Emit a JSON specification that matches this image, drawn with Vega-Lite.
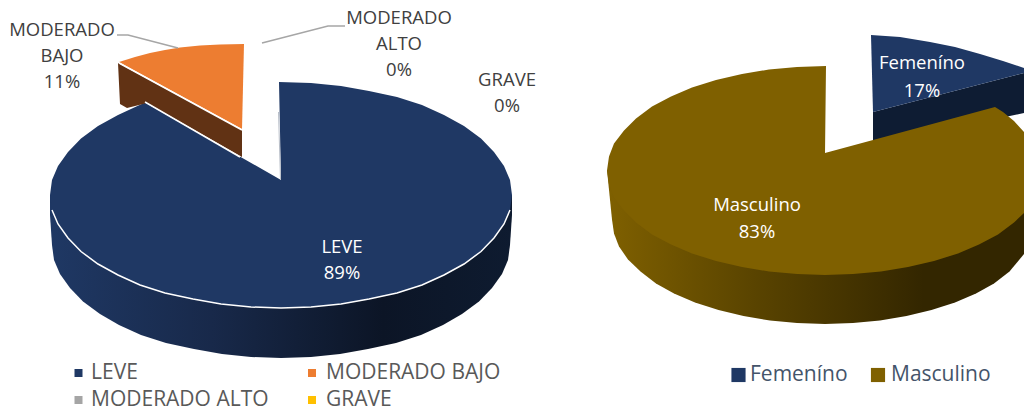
{"$schema":"https://vega.github.io/schema/vega-lite/v6.json","width":1024,"height":408,"autosize":{"type":"none"},"padding":0,"background":"white","config":{"view":{"stroke":null},"axis":{"disable":true}},
"encoding":{"x":{"field":"x","type":"quantitative","scale":{"domain":[0,1024],"nice":false,"zero":false},"axis":null},"y":{"field":"y","type":"quantitative","scale":{"domain":[408,0],"nice":false,"zero":false},"axis":null}},
"datasets":{
"leveSide":[{"i":1,"x":50,"y":195},{"i":2,"x":50,"y":215},{"i":3,"x":52,"y":245},{"i":4,"x":54,"y":260},{"i":5,"x":60,"y":274},{"i":6,"x":70,"y":288},{"i":7,"x":83,"y":301.5},{"i":8,"x":100,"y":314},{"i":9,"x":119,"y":325},{"i":10,"x":141,"y":335},{"i":11,"x":166,"y":343},{"i":12,"x":194,"y":349},{"i":13,"x":222,"y":354},{"i":14,"x":251,"y":357},{"i":15,"x":281,"y":358},{"i":16,"x":311,"y":357},{"i":17,"x":340,"y":354},{"i":18,"x":368,"y":349},{"i":19,"x":396,"y":343},{"i":20,"x":421,"y":335},{"i":21,"x":443,"y":325},{"i":22,"x":462,"y":314},{"i":23,"x":479,"y":301.5},{"i":24,"x":492,"y":288},{"i":25,"x":502,"y":274},{"i":26,"x":508,"y":260},{"i":27,"x":510,"y":245},{"i":28,"x":512,"y":215},{"i":29,"x":512,"y":195}],
"leveTop":[{"i":1,"x":281,"y":180},{"i":2,"x":279,"y":82},{"i":3,"x":311,"y":83},{"i":4,"x":341,"y":86},{"i":5,"x":369,"y":91},{"i":6,"x":397,"y":97},{"i":7,"x":422,"y":105},{"i":8,"x":444,"y":115},{"i":9,"x":464,"y":126},{"i":10,"x":481,"y":138.5},{"i":11,"x":494,"y":152},{"i":12,"x":504,"y":166},{"i":13,"x":510,"y":180},{"i":14,"x":512,"y":195},{"i":15,"x":510,"y":210},{"i":16,"x":504,"y":224},{"i":17,"x":494,"y":238},{"i":18,"x":481,"y":251.5},{"i":19,"x":464,"y":264},{"i":20,"x":444,"y":275},{"i":21,"x":422,"y":285},{"i":22,"x":397,"y":293},{"i":23,"x":369,"y":299},{"i":24,"x":341,"y":304},{"i":25,"x":311,"y":307},{"i":26,"x":281,"y":308},{"i":27,"x":251,"y":307},{"i":28,"x":221,"y":304},{"i":29,"x":193,"y":299},{"i":30,"x":165,"y":293},{"i":31,"x":140,"y":285},{"i":32,"x":118,"y":275},{"i":33,"x":98,"y":264},{"i":34,"x":81,"y":251.5},{"i":35,"x":68,"y":238},{"i":36,"x":58,"y":224},{"i":37,"x":52,"y":210},{"i":38,"x":50,"y":195},{"i":39,"x":52,"y":180},{"i":40,"x":58,"y":166},{"i":41,"x":68,"y":152},{"i":42,"x":81,"y":138.5},{"i":43,"x":98,"y":126},{"i":44,"x":118,"y":115},{"i":45,"x":145,"y":102.5}],
"leveRim":[{"i":1,"x":52,"y":210},{"i":2,"x":58,"y":224},{"i":3,"x":68,"y":238},{"i":4,"x":81,"y":251.5},{"i":5,"x":98,"y":264},{"i":6,"x":118,"y":275},{"i":7,"x":140,"y":285},{"i":8,"x":165,"y":293},{"i":9,"x":193,"y":299},{"i":10,"x":221,"y":304},{"i":11,"x":251,"y":307},{"i":12,"x":281,"y":308},{"i":13,"x":311,"y":307},{"i":14,"x":341,"y":304},{"i":15,"x":369,"y":299},{"i":16,"x":397,"y":293},{"i":17,"x":422,"y":285},{"i":18,"x":444,"y":275},{"i":19,"x":464,"y":264},{"i":20,"x":481,"y":251.5},{"i":21,"x":494,"y":238},{"i":22,"x":504,"y":224},{"i":23,"x":510,"y":210}],
"bajoSide":[{"i":1,"x":118,"y":63},{"i":2,"x":242,"y":130},{"i":3,"x":242,"y":157},{"i":4,"x":147,"y":103},{"i":5,"x":127,"y":108},{"i":6,"x":120,"y":104}],
"bajoTop":[{"i":1,"x":242,"y":129},{"i":2,"x":119,"y":62},{"i":3,"x":135,"y":57},{"i":4,"x":150,"y":53},{"i":5,"x":165,"y":50},{"i":6,"x":180,"y":47.5},{"i":7,"x":200,"y":45.5},{"i":8,"x":220,"y":44.5},{"i":9,"x":244,"y":44}],
"whiteEdges":[{"g":"a","i":1,"x":145,"y":102},{"g":"a","i":2,"x":240,"y":157},{"g":"b","i":1,"x":119,"y":63},{"g":"b","i":2,"x":242,"y":130}],
"greyEdge":[{"i":1,"x":278.5,"y":112},{"i":2,"x":280.5,"y":180}],
"leaders":[{"g":"a","i":1,"x":117,"y":35},{"g":"a","i":2,"x":128,"y":35},{"g":"a","i":3,"x":178,"y":48},{"g":"b","i":1,"x":262,"y":43},{"g":"b","i":2,"x":328,"y":26},{"g":"b","i":3,"x":345,"y":26}],
"femSide":[{"i":1,"x":873,"y":112},{"i":2,"x":1024,"y":73},{"i":3,"x":1024,"y":113},{"i":4,"x":873,"y":145}],
"femTop":[{"i":1,"x":873,"y":112},{"i":2,"x":871,"y":35},{"i":3,"x":900,"y":37},{"i":4,"x":930,"y":42},{"i":5,"x":955,"y":47},{"i":6,"x":980,"y":54},{"i":7,"x":1003,"y":61},{"i":8,"x":1024,"y":68},{"i":9,"x":1024,"y":73}],
"mascSide":[{"i":1,"x":607,"y":170},{"i":2,"x":612,"y":219.5},{"i":3,"x":614,"y":233.5},{"i":4,"x":619,"y":246.5},{"i":5,"x":628,"y":259.5},{"i":6,"x":640.5,"y":271.5},{"i":7,"x":656,"y":283.5},{"i":8,"x":674,"y":293.5},{"i":9,"x":695,"y":302.5},{"i":10,"x":718.5,"y":310},{"i":11,"x":743.5,"y":316},{"i":12,"x":770,"y":320.5},{"i":13,"x":797,"y":323},{"i":14,"x":825,"y":324},{"i":15,"x":853,"y":323},{"i":16,"x":880,"y":320.5},{"i":17,"x":906.5,"y":316},{"i":18,"x":931.5,"y":310},{"i":19,"x":955,"y":302.5},{"i":20,"x":976,"y":293.5},{"i":21,"x":994,"y":283.5},{"i":22,"x":1009.5,"y":271.5},{"i":23,"x":1024,"y":254},{"i":24,"x":1024,"y":205}],
"mascTop":[{"i":1,"x":825,"y":153},{"i":2,"x":995,"y":107},{"i":3,"x":1003,"y":112},{"i":4,"x":1014,"y":121},{"i":5,"x":1024,"y":132},{"i":6,"x":1024,"y":213},{"i":7,"x":1014,"y":222.5},{"i":8,"x":998,"y":234.5},{"i":9,"x":979,"y":244.5},{"i":10,"x":958,"y":253.5},{"i":11,"x":934,"y":261},{"i":12,"x":908,"y":267},{"i":13,"x":881,"y":271.5},{"i":14,"x":853,"y":274},{"i":15,"x":825,"y":275},{"i":16,"x":797,"y":274},{"i":17,"x":769,"y":271.5},{"i":18,"x":742,"y":267},{"i":19,"x":716,"y":261},{"i":20,"x":692,"y":253.5},{"i":21,"x":671,"y":244.5},{"i":22,"x":652,"y":234.5},{"i":23,"x":636,"y":222.5},{"i":24,"x":624,"y":210.5},{"i":25,"x":614,"y":197.5},{"i":26,"x":609,"y":184.5},{"i":27,"x":607,"y":170.5},{"i":28,"x":609,"y":156.5},{"i":29,"x":614,"y":143.5},{"i":30,"x":624,"y":130.5},{"i":31,"x":636,"y":118.5},{"i":32,"x":652,"y":106.5},{"i":33,"x":671,"y":96.5},{"i":34,"x":692,"y":87.5},{"i":35,"x":716,"y":80},{"i":36,"x":742,"y":74},{"i":37,"x":769,"y":69.5},{"i":38,"x":797,"y":67},{"i":39,"x":826,"y":66}],
"labelsDark":[{"t":"MODERADO","x":62,"y":30},{"t":"BAJO","x":62,"y":56},{"t":"11%","x":62,"y":82},{"t":"MODERADO","x":399,"y":18},{"t":"ALTO","x":399,"y":44},{"t":"0%","x":399,"y":70},{"t":"GRAVE","x":507,"y":80},{"t":"0%","x":507,"y":106}],
"labelsWhite":[{"t":"LEVE","x":342,"y":247},{"t":"89%","x":342,"y":273},{"t":"Femeníno","x":922,"y":63},{"t":"17%","x":922,"y":91},{"t":"Masculino","x":757,"y":205},{"t":"83%","x":757,"y":232}],
"legendLeft":[{"t":"LEVE","x":91,"y":373},{"t":"MODERADO BAJO","x":326,"y":373},{"t":"MODERADO ALTO","x":91,"y":400},{"t":"GRAVE","x":326,"y":400}],
"legendRight":[{"t":"Femeníno","x":750,"y":375},{"t":"Masculino","x":891,"y":375}],
"swatchLeft":[{"c":"LEVE","x":78.5,"y":373},{"c":"MODERADO BAJO","x":312,"y":373},{"c":"MODERADO ALTO","x":78.5,"y":400},{"c":"GRAVE","x":312,"y":400}],
"swatchRight":[{"c":"Femeníno","x":738.5,"y":375},{"c":"Masculino","x":878,"y":375}]
},
"layer":[
{"data":{"name":"leveSide"},"mark":{"type":"line","strokeWidth":0,"fill":{"gradient":"linear","x1":0,"y1":0,"x2":1,"y2":0,"stops":[{"offset":0,"color":"#1f3864"},{"offset":0.35,"color":"#18294a"},{"offset":0.72,"color":"#0c1526"},{"offset":1,"color":"#0e1b30"}]}},"encoding":{"order":{"field":"i"}}},
{"data":{"name":"leveTop"},"mark":{"type":"line","strokeWidth":0,"fill":"#1f3864"},"encoding":{"order":{"field":"i"}}},
{"data":{"name":"bajoSide"},"mark":{"type":"line","strokeWidth":0,"fill":"#613214"},"encoding":{"order":{"field":"i"}}},
{"data":{"name":"bajoTop"},"mark":{"type":"line","strokeWidth":0,"fill":"#ed7d31"},"encoding":{"order":{"field":"i"}}},
{"data":{"name":"whiteEdges"},"mark":{"type":"line","stroke":"#ffffff","strokeWidth":1.5},"encoding":{"order":{"field":"i"},"detail":{"field":"g"}}},
{"data":{"name":"greyEdge"},"mark":{"type":"line","stroke":"#b8bec8","strokeWidth":1},"encoding":{"order":{"field":"i"}}},
{"data":{"name":"leveRim"},"mark":{"type":"line","stroke":"#ffffff","strokeWidth":1.5},"encoding":{"order":{"field":"i"}}},
{"data":{"name":"leaders"},"mark":{"type":"line","stroke":"#a6a6a6","strokeWidth":1.5},"encoding":{"order":{"field":"i"},"detail":{"field":"g"}}},
{"data":{"name":"femSide"},"mark":{"type":"line","strokeWidth":0,"fill":"#0e1c33"},"encoding":{"order":{"field":"i"}}},
{"data":{"name":"femTop"},"mark":{"type":"line","strokeWidth":0,"fill":"#1f3864"},"encoding":{"order":{"field":"i"}}},
{"data":{"name":"mascSide"},"mark":{"type":"line","strokeWidth":0,"fill":{"gradient":"linear","x1":0,"y1":0,"x2":1,"y2":0,"stops":[{"offset":0,"color":"#7f6000"},{"offset":0.35,"color":"#5a4400"},{"offset":0.76,"color":"#332600"},{"offset":1,"color":"#332600"}]}},"encoding":{"order":{"field":"i"}}},
{"data":{"name":"mascTop"},"mark":{"type":"line","strokeWidth":0,"fill":"#7f6000"},"encoding":{"order":{"field":"i"}}},
{"data":{"name":"labelsDark"},"mark":{"type":"text","font":"Open Sans","fontSize":18.5,"color":"#404040"},"encoding":{"text":{"field":"t"}}},
{"data":{"name":"labelsWhite"},"mark":{"type":"text","font":"Open Sans","fontSize":18.5,"color":"#ffffff"},"encoding":{"text":{"field":"t"}}},
{"data":{"name":"legendLeft"},"mark":{"type":"text","font":"Open Sans","fontSize":21,"align":"left","color":"#595959"},"encoding":{"text":{"field":"t"}}},
{"data":{"name":"legendRight"},"mark":{"type":"text","font":"Open Sans","fontSize":21,"align":"left","color":"#44546a"},"encoding":{"text":{"field":"t"}}},
{"data":{"name":"swatchLeft"},"mark":{"type":"point","shape":"square","filled":true,"opacity":1,"size":64},"encoding":{"color":{"field":"c","type":"nominal","legend":null,"scale":{"domain":["LEVE","MODERADO BAJO","MODERADO ALTO","GRAVE"],"range":["#1f3864","#ed7d31","#a5a5a5","#ffc000"]}}}},
{"data":{"name":"swatchRight"},"mark":{"type":"point","shape":"square","filled":true,"opacity":1,"size":200},"encoding":{"fill":{"field":"c","type":"nominal","legend":null,"scale":{"domain":["Femeníno","Masculino"],"range":["#1f3864","#7f6000"]}}}}
]}
